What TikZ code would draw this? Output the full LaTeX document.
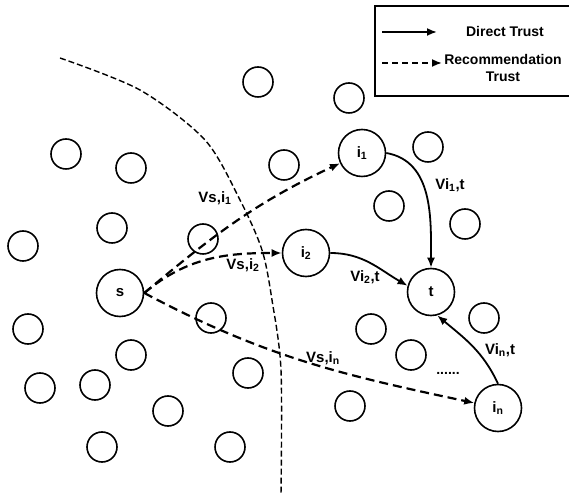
\documentclass[tikz,border=0pt]{standalone}
\usepackage{fontspec}
\setmainfont{Liberation Sans}
\usetikzlibrary{arrows.meta}
\tikzset{
  peer/.style={circle,draw,line width=1.6pt,minimum size=30pt,inner sep=0pt},
  agent/.style={circle,draw,line width=1.6pt,minimum size=47pt,inner sep=0pt,
    font=\fontsize{15}{17}\selectfont\bfseries},
  direct/.style={line width=1.8pt,-{Latex[length=10pt,width=8pt]}},
  recom/.style={line width=2.2pt,dash pattern=on 9pt off 5pt,-{Latex[length=10pt,width=8pt]}},
  weight/.style={font=\fontsize{15}{17}\selectfont\bfseries,inner sep=1pt},
  legtext/.style={font=\fontsize{14}{17}\selectfont\bfseries,inner sep=1pt},
}
\begin{document}
\begin{tikzpicture}[x=1pt,y=1pt]
\useasboundingbox (0,0) rectangle (569,500);

% other peers of the network
\foreach \px/\py [count=\k] in {258/418,349/402,66/346,131/332,284/335,428/353,
    112/272,23/254,203/261,389/294,465/276,211/182,28/171,131/145,371/171,
    484/182,40/112,95/115,248/127,411/145,168/89,350/94,102/53,230/53}
  \node[peer] (p\k) at (\px,\py) {};

% trust boundary
\draw[line width=1.4pt,dash pattern=on 6pt off 3pt] plot[smooth] coordinates
  {(60,442) (140,410) (205,360) (240,300) (262,250) (272,200) (281,130) (281,5)};

\node[agent] (s) at (120,207) {s};
\node[agent] (i1) at (362,347) {i\textsubscript{1}};
\node[agent] (i2) at (306,247) {i\textsubscript{2}};
\node[agent] (t) at (431,208) {t};
\node[agent] (in) at (498,92) {i\textsubscript{n}};

% recommendation trust
\draw[recom] (s.east) to[out=40,in=-155] (i1);
\draw[recom] (s.east) to[out=40,in=180] (i2);
\draw[recom] (s.east) to[out=-28,in=168] (in);

% direct trust
\draw[direct] (i1.east) to[out=-10,in=90] (t);
\draw[direct] (i2.east) to[out=0,in=150] (t.165);
\draw[direct] (in.north) to[out=115,in=-40] (t.-75);

\node[weight] (vsi1) at (215,302) {Vs,i\textsubscript{1}};
\node[weight] (vsi2) at (243,235) {Vs,i\textsubscript{2}};
\node[weight] (vsin) at (323,142) {Vs,i\textsubscript{n}};
\node[weight] (vi1t) at (450,315) {Vi\textsubscript{1},t};
\node[weight] (vi2t) at (365,223) {Vi\textsubscript{2},t};
\node[weight] (vint) at (500,150) {Vi\textsubscript{n},t};
\node[legtext] (more) at (448,127) {......};

% legend
\draw[line width=1.8pt] (375,404) rectangle (575,494);
\coordinate (d0) at (382,468);
\coordinate (d1) at (437,468);
\coordinate (r0) at (382,437);
\coordinate (r1) at (442,437);
\draw[direct] (d0) -- (d1);
\draw[recom,line width=1.8pt,dash pattern=on 6pt off 4pt] (r0) -- (r1);
\node[legtext] (dlab) at (505,468) {Direct Trust};
\node[legtext,align=center] (rlab) at (503,432) {Recommendation\\Trust};
\end{tikzpicture}
\end{document}
